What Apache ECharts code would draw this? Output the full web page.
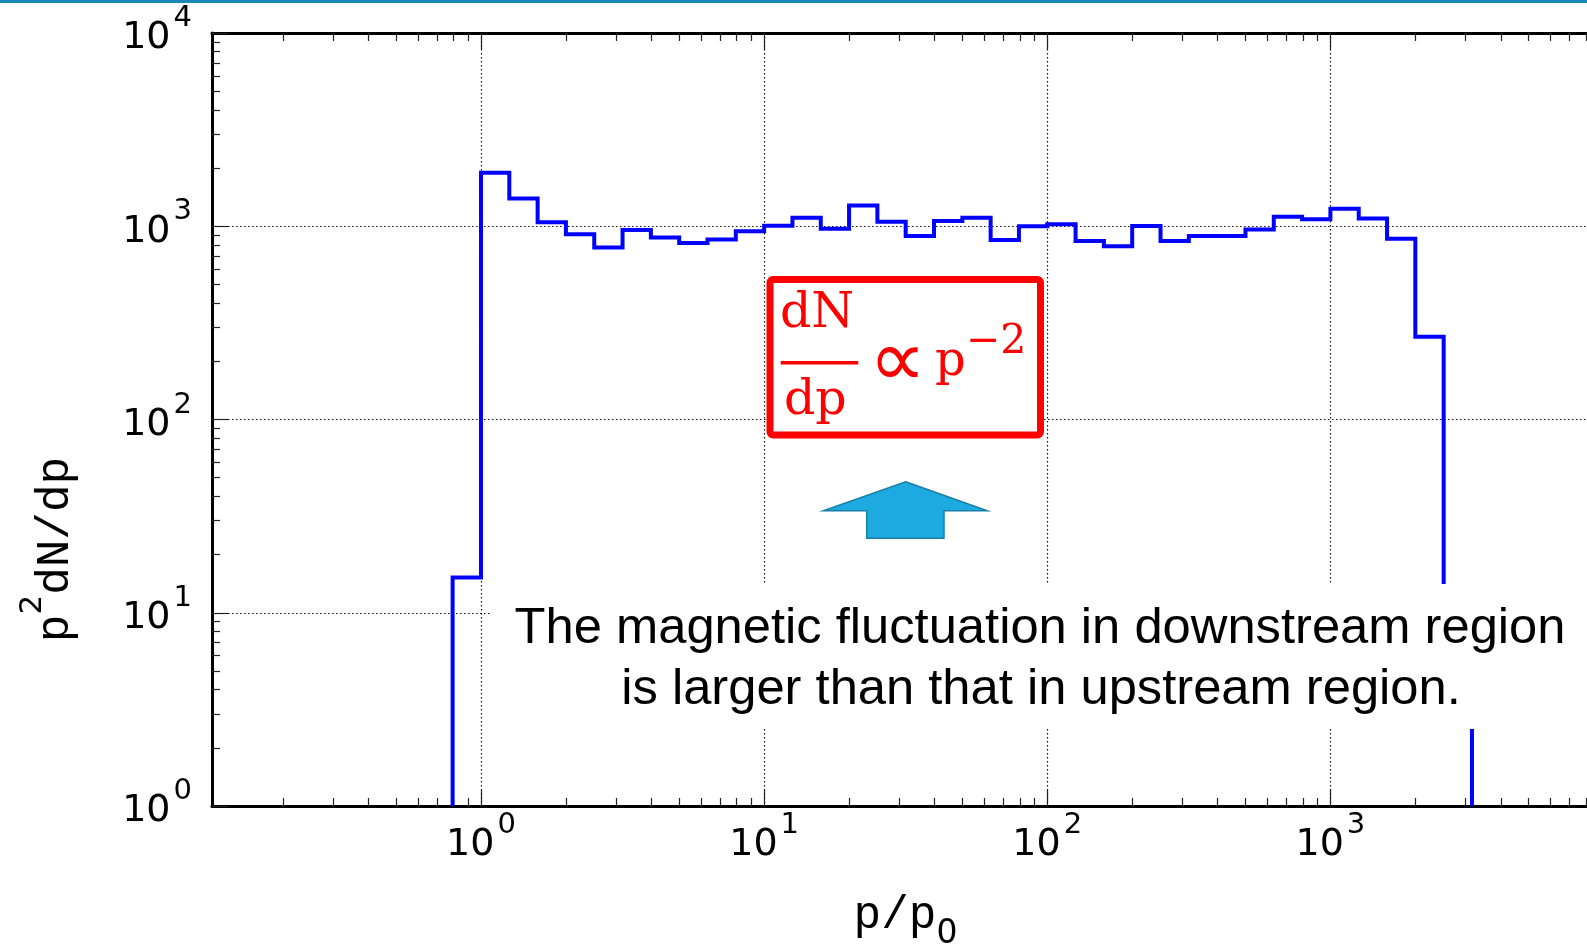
<!DOCTYPE html>
<html style="height: 100%">
<head>
    <meta charset="utf-8">
</head>
<body style="height: 100%; margin: 0; background: #fff">
<div id="container" style="width: 1587px; height: 944px"></div>
<script type="text/javascript" src="https://cdn.jsdelivr.net/npm/echarts@6.0.0/dist/echarts.min.js"></script>
<script type="text/javascript">
var dom = document.getElementById("container");
var myChart = echarts.init(dom);

// histogram bin edges in p/p0 (0.1 decade bins)
var binEdges = [0.794, 1, 1.259, 1.585, 1.995, 2.512, 3.162, 3.981, 5.012, 6.310, 7.943,
    10, 12.59, 15.85, 19.95, 25.12, 31.62, 39.81, 50.12, 63.10, 79.43,
    100, 125.9, 158.5, 199.5, 251.2, 316.2, 398.1, 501.2, 631.0, 794.3,
    1000, 1259, 1585, 1995, 2512, 3162];
// p^2 dN/dp in each bin
var binValues = [15.2, 1890, 1393, 1050, 910, 777, 955, 875, 818, 855, 943,
    1005, 1106, 970, 1281, 1054, 889, 1066, 1106, 848, 1000,
    1025, 840, 788, 1002, 840, 889, 889, 962, 1119, 1088,
    1231, 1097, 861, 268, 5];

// axis ranges and ticks
var xRange = [0.1122, 8913];
var yRange = [1, 10000];
var xMajor = [1, 10, 100, 1000];
var yMajor = [1, 10, 100, 1000, 10000];
var xDecades = [0.1, 1, 10, 100, 1000];
var yDecades = [1, 10, 100, 1000];
var minorSteps = [2, 3, 4, 5, 6, 7, 8, 9];

var lg = Math.log10;

function minorTicks(decades, range) {
    var out = [];
    decades.forEach(function (d) {
        minorSteps.forEach(function (m) {
            var v = lg(m * d);
            if (v > lg(range[0]) && v < lg(range[1])) out.push(v);
        });
    });
    return out;
}

// step outline of the histogram
var stepData = [[lg(binEdges[0]), lg(yRange[0])]];
for (var i = 0; i < binValues.length; i++) {
    stepData.push([lg(binEdges[i]), lg(binValues[i])]);
    stepData.push([lg(binEdges[i + 1]), lg(binValues[i])]);
}
stepData.push([lg(binEdges[binEdges.length - 1]), lg(yRange[0])]);

var tickFont = '"DejaVu Sans", sans-serif';
var richPow = {
    b: { fontFamily: tickFont, fontSize: 38, lineHeight: 69, color: '#000' },
    s: { fontFamily: tickFont, fontSize: 29, lineHeight: 29, verticalAlign: 'top', color: '#000', padding: [0, 0, 0, 3] }
};
function powLabel(v) {
    return '{b|10}{s|' + Math.round(v) + '}';
}
var gridLine = { show: true, lineStyle: { color: '#111', width: 1.2, type: [1.5, 2.5] } };
var blackLine = { show: true, onZero: false, lineStyle: { color: '#000', width: 3 } };

function xAxisOf(position, major, withLabel) {
    return {
        type: 'value',
        position: position,
        min: lg(xRange[0]),
        max: lg(xRange[1]),
        minInterval: 1,
        maxInterval: 1,
        axisLine: major ? blackLine : { show: false, onZero: false },
        axisTick: {
            show: true, inside: true, length: major ? 16 : 8,
            customValues: major ? xMajor.map(lg) : minorTicks(xDecades, xRange),
            lineStyle: { color: '#222', width: 1.2 }
        },
        axisLabel: withLabel ? {
            show: true, margin: 5, customValues: xMajor.map(lg),
            formatter: powLabel, rich: richPow
        } : { show: false },
        splitLine: (major && withLabel) ? gridLine : { show: false }
    };
}

function yAxisOf(major) {
    return {
        type: 'value',
        position: 'left',
        min: lg(yRange[0]),
        max: lg(yRange[1]),
        interval: 1,
        axisLine: major ? blackLine : { show: false, onZero: false },
        axisTick: {
            show: true, inside: true, length: major ? 16 : 8,
            customValues: major ? yMajor.map(lg) : minorTicks(yDecades, yRange),
            lineStyle: { color: '#222', width: 1.2 }
        },
        axisLabel: major ? {
            show: true, margin: 20, padding: [11, 0, 0, 0],
            customValues: yMajor.map(lg),
            formatter: powLabel, rich: richPow
        } : { show: false },
        splitLine: major ? gridLine : { show: false }
    };
}

var titleFont = '"Liberation Mono", monospace';
var serif = '"DejaVu Serif", serif';

option = {
    backgroundColor: '#fff',
    animation: false,
    grid: {
        left: 212, top: 33, right: -12.4, bottom: 138,
        containLabel: false,
        outerBoundsMode: 'none'
    },
    xAxis: [
        xAxisOf('bottom', true, true),
        xAxisOf('bottom', false, false),
        xAxisOf('top', true, false),
        xAxisOf('top', false, false)
    ],
    yAxis: [yAxisOf(true), yAxisOf(false)],
    series: [{
        type: 'line',
        xAxisIndex: 0,
        yAxisIndex: 0,
        data: stepData,
        showSymbol: false,
        symbol: 'none',
        silent: true,
        lineStyle: { color: '#0000FF', width: 4, join: 'miter' }
    }],
    graphic: [
        // slide stripe at the top
        { type: 'rect', z: 100, shape: { x: 0, y: 0, width: 1587, height: 3 }, style: { fill: '#1B87B4' } },
        // axis titles
        {
            type: 'text', z: 100, x: 56, y: 549.5, rotation: Math.PI / 2,
            style: {
                text: '{a|p}{s|2}{a|dN/dp}',
                align: 'center', verticalAlign: 'middle',
                textAlign: 'center', textVerticalAlign: 'middle',
                rich: {
                    a: { fontFamily: titleFont, fontSize: 46, lineHeight: 77, fill: '#000' },
                    s: { fontFamily: tickFont, fontSize: 31, lineHeight: 32, verticalAlign: 'top', fill: '#000' }
                }
            }
        },
        {
            type: 'text', z: 100, x: 905.5, y: 915.7,
            style: {
                text: '{a|p/p}{s|0}',
                align: 'center', verticalAlign: 'middle',
                textAlign: 'center', textVerticalAlign: 'middle',
                rich: {
                    a: { fontFamily: titleFont, fontSize: 46, lineHeight: 71, fill: '#000' },
                    s: { fontFamily: tickFont, fontSize: 33, lineHeight: 34, verticalAlign: 'bottom', fill: '#000' }
                }
            }
        },
        // red formula box
        {
            type: 'rect', z: 100,
            shape: { x: 770, y: 279.5, width: 270.5, height: 155.5, r: 3 },
            style: { fill: '#fff', stroke: '#FF0000', lineWidth: 7 }
        },
        { type: 'text', z: 101, x: 780, y: 314.5, style: { text: 'dN', font: '49px ' + serif, fill: '#FF0000', align: 'left', verticalAlign: 'middle', textAlign: 'left', textVerticalAlign: 'middle' } },
        { type: 'rect', z: 101, shape: { x: 780.7, y: 361, width: 77.6, height: 3.5 }, style: { fill: '#FF0000' } },
        { type: 'text', z: 101, x: 784, y: 401.5, style: { text: 'dp', font: '49px ' + serif, fill: '#FF0000', align: 'left', verticalAlign: 'middle', textAlign: 'left', textVerticalAlign: 'middle' } },
        { type: 'text', z: 101, x: 869, y: 365, style: { text: '\u221D', font: '200 80px "DejaVu Sans"', fill: '#FF0000', align: 'left', verticalAlign: 'middle', textAlign: 'left', textVerticalAlign: 'middle' } },
        { type: 'text', z: 101, x: 935, y: 363, style: { text: 'p', font: '48px ' + serif, fill: '#FF0000', align: 'left', verticalAlign: 'middle', textAlign: 'left', textVerticalAlign: 'middle' } },
        { type: 'text', z: 101, x: 966, y: 342, style: { text: '\u22122', font: '41px ' + serif, fill: '#FF0000', align: 'left', verticalAlign: 'middle', textAlign: 'left', textVerticalAlign: 'middle' } },
        // blue arrow
        {
            type: 'polygon', z: 100,
            shape: { points: [[905.7, 481.7], [987.3, 510.7], [944, 510.7], [944, 538.3], [866.7, 538.3], [866.7, 510.7], [823.3, 510.7]] },
            style: { fill: '#1DAAE0', stroke: '#1A7FA7', lineWidth: 1.5 }
        },
        // white text box with the sentence
        { type: 'rect', z: 100, shape: { x: 490, y: 584, width: 1100, height: 145 }, style: { fill: '#fff' } },
        { type: 'text', z: 101, x: 1040, y: 629, style: { text: 'The magnetic fluctuation in downstream region', font: '50.7px "Liberation Sans"', fill: '#000', align: 'center', verticalAlign: 'middle', textAlign: 'center', textVerticalAlign: 'middle' } },
        { type: 'text', z: 101, x: 1041, y: 690.5, style: { text: 'is larger than that in upstream region.', font: '50.7px "Liberation Sans"', fill: '#000', align: 'center', verticalAlign: 'middle', textAlign: 'center', textVerticalAlign: 'middle' } }
    ]
};

myChart.setOption(option);
</script>
</body>
</html>
